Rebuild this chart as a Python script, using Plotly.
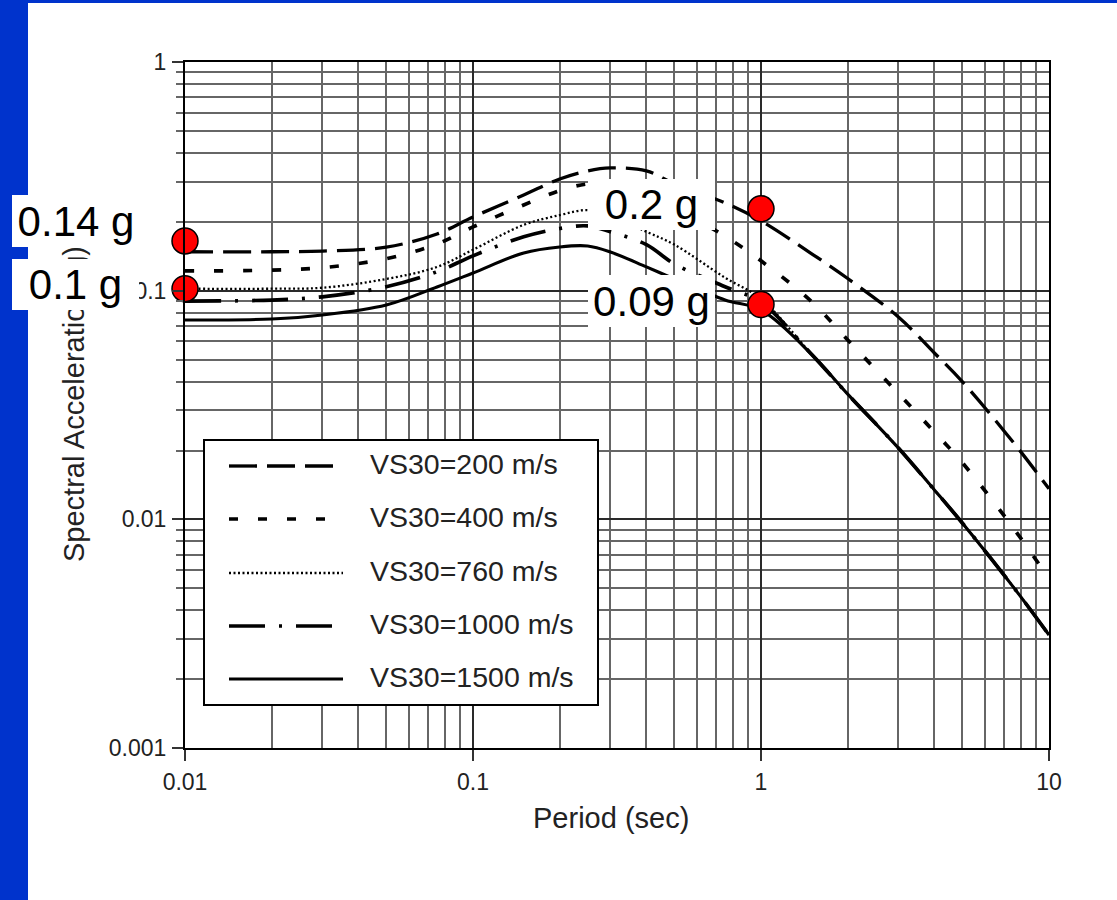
import plotly.graph_objects as go

# ---------------- data ----------------
periods = [0.01, 0.02, 0.03, 0.05, 0.075, 0.1, 0.15, 0.2, 0.25, 0.3, 0.4, 0.5,
           0.75, 1.0, 1.5, 2.0, 3.0, 4.0, 5.0, 7.5, 10.0]

sa_vs200 = [0.148, 0.148, 0.149, 0.155, 0.177, 0.210, 0.262, 0.308, 0.334, 0.344, 0.334, 0.293,
            0.242, 0.202, 0.145, 0.113, 0.0767, 0.0534, 0.040, 0.0218, 0.0136]
sa_vs400 = [0.122, 0.123, 0.126, 0.138, 0.160, 0.190, 0.237, 0.274, 0.293, 0.293, 0.276, 0.232,
            0.173, 0.135, 0.0895, 0.0609, 0.0355, 0.0241, 0.0177, 0.0092, 0.0055]
sa_vs760 = [0.102, 0.102, 0.103, 0.1125, 0.127, 0.151, 0.194, 0.214, 0.225, 0.212, 0.181, 0.159,
            0.114, 0.092, 0.0526, 0.0353, 0.0205, 0.01345, 0.00964, 0.00508, 0.00312]
sa_vs1000 = [0.090, 0.091, 0.094, 0.104, 0.121, 0.142, 0.172, 0.187, 0.192, 0.181, 0.159, 0.131,
             0.104, 0.089, 0.0526, 0.0353, 0.0205, 0.01345, 0.00964, 0.00508, 0.00312]
sa_vs1500 = [0.0744, 0.0752, 0.0783, 0.0866, 0.1038, 0.1195, 0.1462, 0.1553, 0.1568, 0.1476, 0.1270, 0.1125,
             0.0911, 0.0823, 0.0526, 0.0353, 0.0205, 0.01345, 0.00964, 0.00508, 0.00312]

series_names = ["VS30=200 m/s", "VS30=400 m/s", "VS30=760 m/s", "VS30=1000 m/s", "VS30=1500 m/s"]
series_values = [sa_vs200, sa_vs400, sa_vs760, sa_vs1000, sa_vs1500]

x_tick_vals = [0.01, 0.1, 1, 10]
x_tick_text = ["0.01", "0.1", "1", "10"]
y_tick_vals = [0.001, 0.01, 0.1, 1]
y_tick_text = ["0.001", "0.01", "0.1", "1"]

marker_periods = [0.01, 0.01, 1.0, 1.0]
marker_sa = [0.165, 0.102, 0.228, 0.087]
marker_labels = ["0.14 g", "0.1 g", "0.2 g", "0.09 g"]

x_title = "Period (sec)"
y_title = "Spectral Acceleration (g)"

# ---------------- styling ----------------
W, H = 1117, 900
PL, PR, PT, PB = 185, 1049, 62, 748
FONT = "Liberation Sans, Arial, Helvetica, sans-serif"
BLUE = "#0033CC"

dash_styles = ["28px,10px", "9px,20px", "2px,2.5px", "36px,14px,3px,14px", "solid"]
line_widths = [3.3, 3.7, 2.3, 3.7, 3.1]


def px_x(px):
    return (px - PL) / (PR - PL)


def px_y(py):
    return (PB - py) / (PB - PT)


fig = go.Figure()
for name, vals, dash, lw in zip(series_names, series_values, dash_styles, line_widths):
    fig.add_trace(go.Scatter(
        x=periods, y=vals, mode="lines", name=name, showlegend=False,
        line=dict(color="black", width=lw, dash=dash, shape="spline", smoothing=1.0),
    ))

fig.add_trace(go.Scatter(
    x=marker_periods, y=marker_sa, mode="markers", showlegend=False, cliponaxis=False,
    marker=dict(size=26, color="#FF0000", line=dict(color="black", width=1.5)),
))

# minor grid values (layout only)
x_minor = [m * d for d in [0.01, 0.1, 1] for m in range(2, 10)]
y_minor = [m * d for d in [0.001, 0.01, 0.1] for m in range(2, 10)]

axis_common = dict(
    type="log", showline=True, linecolor="black", linewidth=2, mirror=True,
    showgrid=True, gridcolor="#2a2a2a", gridwidth=1.7, zeroline=False,
    ticks="outside", ticklen=11, tickwidth=1.6, tickcolor="#333",
    tickfont=dict(family=FONT, size=23, color="#222"),
    tickmode="array",
)
fig.update_xaxes(
    **axis_common, range=[-2, 1], tickvals=x_tick_vals, ticktext=x_tick_text,
    ticklabelstandoff=1,
    minor=dict(tickmode="array", tickvals=x_minor, showgrid=True, gridcolor="#666666",
               gridwidth=1.7, ticks=""),
)
fig.update_yaxes(
    **axis_common, range=[-3, 0], tickvals=y_tick_vals, ticktext=y_tick_text,
    ticklabelstandoff=1,
    minor=dict(tickmode="array", tickvals=y_minor, showgrid=True, gridcolor="#666666",
               gridwidth=1.7, ticks="outside", ticklen=7, tickcolor="#666"),
)

shapes = []
# blue frame strips of the slide
shapes.append(dict(type="rect", xref="paper", yref="paper", layer="above",
                   x0=px_x(0), x1=px_x(28), y0=px_y(H), y1=px_y(0),
                   fillcolor=BLUE, line=dict(width=0)))
shapes.append(dict(type="rect", xref="paper", yref="paper", layer="above",
                   x0=px_x(0), x1=px_x(W), y0=px_y(3), y1=px_y(0),
                   fillcolor=BLUE, line=dict(width=0)))
# legend box
shapes.append(dict(type="rect", xref="paper", yref="paper", layer="above",
                   x0=px_x(204), x1=px_x(598), y0=px_y(705), y1=px_y(440),
                   fillcolor="white", line=dict(color="black", width=2)))
row_y = [466, 519, 573, 626, 679]
for dash, lw, ry in zip(dash_styles, line_widths, row_y):
    shapes.append(dict(type="line", xref="paper", yref="paper", layer="above",
                       x0=px_x(229), x1=px_x(343), y0=px_y(ry), y1=px_y(ry),
                       line=dict(color="black", width=lw, dash=dash)))

annotations = []
# axis titles
annotations.append(dict(xref="paper", yref="paper", x=px_x(611), y=px_y(818),
                        text=x_title, showarrow=False, xanchor="center", yanchor="middle",
                        font=dict(family=FONT, size=29, color="#222")))
annotations.append(dict(xref="paper", yref="paper", x=px_x(74), y=px_y(404),
                        text=y_title, showarrow=False, textangle=-90,
                        xanchor="center", yanchor="middle",
                        font=dict(family=FONT, size=29, color="#222")))
# legend labels
for name, ry in zip(series_names, row_y):
    annotations.append(dict(xref="paper", yref="paper", x=px_x(368), y=px_y(ry - 2),
                            text=name, showarrow=False, xanchor="left", yanchor="middle",
                            font=dict(family=FONT, size=28.5, color="#222")))
# callout boxes (white background, on top of everything)
boxes = [(12, 140, 195, 247), (12, 139, 259, 310), (588, 715, 179, 230), (588, 715, 275, 327)]
for label, (bx0, bx1, by0, by1) in zip(marker_labels, boxes):
    annotations.append(dict(xref="paper", yref="paper",
                            x=px_x((bx0 + bx1) / 2), y=px_y((by0 + by1) / 2),
                            text=label, showarrow=False, xanchor="center", yanchor="middle",
                            width=bx1 - bx0, height=by1 - by0, align="center", valign="middle",
                            bgcolor="white", borderpad=0, borderwidth=0,
                            font=dict(family=FONT, size=42, color="black")))

fig.update_layout(
    width=W, height=H, autosize=False,
    margin=dict(l=PL, r=W - PR, t=PT, b=H - PB, pad=0),
    paper_bgcolor="white", plot_bgcolor="white",
    shapes=shapes, annotations=annotations, showlegend=False,
)

fig.write_html("out.html", config={"displayModeBar": False},
               post_script="document.body.style.margin='0';")
